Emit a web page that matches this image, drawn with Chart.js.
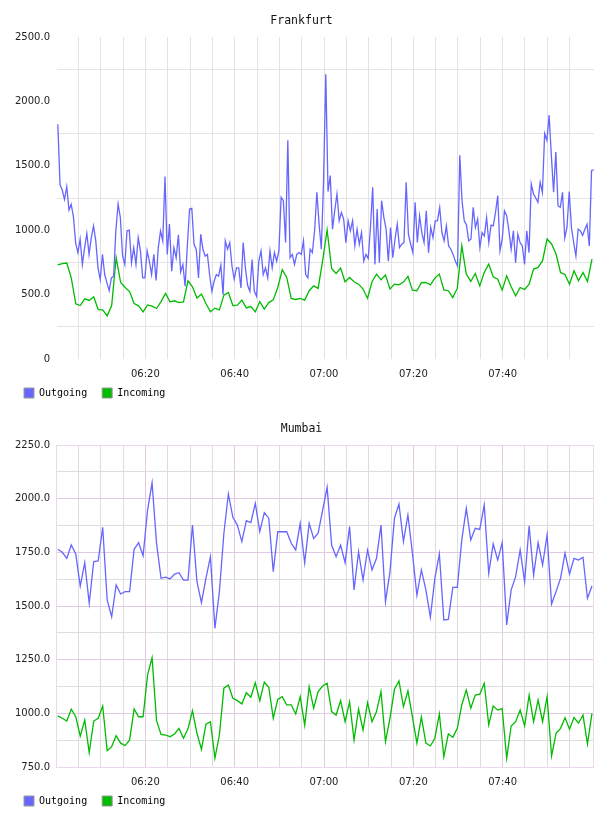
<!DOCTYPE html>
<html><head><meta charset="utf-8">
<script src="https://cdn.jsdelivr.net/npm/chart.js@4.4.0/dist/chart.umd.min.js"></script>
<style>
html,body{margin:0;padding:0;background:#fff;overflow:hidden;width:608px;height:816px;}
canvas{position:absolute;left:0;}
#c1{top:0}
#c2{top:408px}
</style></head><body>
<canvas id="c1" width="608" height="416"></canvas>
<canvas id="c2" width="608" height="416"></canvas>
<script>
// ---- data ----
const chartTitles = ['Frankfurt', 'Mumbai'];
const seriesNames = ['Outgoing', 'Incoming'];
const seriesColors = ['#6666ff', '#00bb00'];
// time axis, minutes after 06:00
const axisStartMinute = 0.22, axisEndMinute = 120.45;
const firstSampleMinute = 0.4;
const outgoingStepMinutes = 0.5;     // Frankfurt outgoing sampled every 30 s
const perMinuteStep = 1.005;         // other series roughly once a minute
const timeLabelMinutes = [20, 40, 60, 80, 100];
const timeLabels = ['06:20', '06:40', '07:00', '07:20', '07:40'];

const frankfurtOutgoing = [
1823,1354,1310,1240,1339,1156,1200,1104,900,826,
930,734,865,974,812,943,1034,917,708,617,
812,656,591,531,630,643,1000,1203,1099,800,
734,995,1000,747,865,734,943,839,630,630,
839,760,656,812,609,865,995,917,1417,812,
1047,682,865,786,964,677,734,565,878,1164,
1170,891,850,630,969,850,799,812,650,526,
604,656,643,729,500,917,852,904,720,620,
708,708,552,904,708,570,526,773,526,487,
760,839,656,708,630,839,708,826,760,839,
1255,1229,904,1698,786,812,734,812,826,812,
917,656,630,852,826,1000,1294,1047,852,1385,
2210,1300,1424,1008,1151,1281,1073,1138,1086,904,
1073,995,1073,878,1008,891,982,760,812,780,
1021,1333,734,1164,747,1229,1099,1008,760,1021,
786,930,1047,865,891,904,1372,969,891,826,
1216,904,1112,982,904,1151,826,1021,943,1073,
1073,1177,982,917,1034,878,852,812,760,721,
1581,1230,1073,1040,917,930,1177,1021,1086,865,
982,956,1099,904,1040,1034,1138,1268,839,930,
1151,1112,995,852,995,747,969,904,878,734,
995,826,1359,1281,1250,1216,1372,1294,1750,1698,
1893,1581,1294,1607,1190,1177,1294,940,1021,1300,
1021,904,799,1008,995,960,1008,1047,878,1464,1469];

const frankfurtIncoming = [
730,740,745,630,428,415,467,455,483,384,
381,335,415,787,594,555,524,431,413,366,
420,410,392,446,509,444,452,438,444,607,
561,473,504,431,366,395,381,496,516,415,
418,457,397,407,366,446,387,438,459,555,
693,633,470,462,470,457,530,568,548,763,
1002,703,664,706,600,633,600,581,543,472,
600,659,615,652,543,581,576,597,641,535,
530,592,594,576,628,659,537,530,477,550,
880,659,602,664,568,672,737,639,620,535,
646,561,491,555,540,581,698,711,763,932,
893,815,672,654,581,685,607,672,602,776];

const mumbaiOutgoing = [
1764,1750,1722,1784,1742,1593,1702,1513,1707,1710,
1867,1528,1450,1598,1556,1567,1567,1764,1795,1734,
1947,2074,1792,1629,1634,1626,1649,1655,1621,1621,
1877,1613,1516,1629,1730,1396,1567,1839,2022,1913,
1877,1800,1897,1888,1978,1846,1935,1909,1660,1846,
1846,1846,1792,1761,1885,1700,1885,1815,1839,1947,
2053,1784,1730,1784,1702,1870,1575,1753,1621,1761,
1668,1722,1877,1520,1660,1909,1975,1800,1924,1746,
1551,1668,1575,1447,1629,1742,1435,1438,1587,1587,
1808,1955,1808,1862,1857,1970,1652,1789,1714,1795,
1412,1575,1637,1761,1613,1873,1644,1795,1691,1831,
1509,1567,1629,1746,1649,1722,1714,1727,1536,1593];

const mumbaiIncoming = [
988,977,964,1019,984,894,969,817,964,977,
1034,826,845,896,861,850,876,1020,984,984,
1179,1259,966,902,899,891,904,930,884,928,
1012,907,832,950,961,791,899,1117,1132,1070,
1059,1044,1096,1075,1143,1059,1145,1121,977,1065,
1078,1039,1039,997,1078,945,1124,1024,1101,1127,
1140,1008,992,1059,961,1054,876,1019,922,1050,
961,1008,1101,868,977,1112,1151,1031,1104,984,
861,984,861,848,884,997,798,904,889,930,
1039,1109,1024,1085,1089,1140,946,1034,1015,1022,
791,941,961,1015,941,1085,961,1062,961,1078,
801,907,930,980,926,980,954,992,857,1000];

// ---- chart building ----
const plotFrame = {
  id: 'plotFrame',
  beforeDatasetsDraw(chart, args, opts) {
    if (!opts.color) return;
    const a = chart.chartArea, ctx = chart.ctx;
    ctx.save();
    ctx.strokeStyle = opts.color;
    ctx.lineWidth = 1;
    ctx.strokeRect(Math.round(a.left) - 0.5, Math.round(a.top) + 0.5,
                   Math.round(a.right - a.left), Math.round(a.bottom - a.top));
    ctx.restore();
  }
};
// pull the legend up closer to the time labels
const legendLift = {
  id: 'legendLift',
  afterLayout(chart, args, opts) {
    const lg = chart.legend;
    if (lg && opts.by) { lg.top -= opts.by; lg.bottom -= opts.by; }
  }
};

function toPoints(values, step) {
  return values.map((v, i) => ({ x: firstSampleMinute + i * step, y: v }));
}

function makeChart(id, title, outVals, outStep, inVals, inStep, yMin, yMax, yStep, labelEvery, style) {
  new Chart(document.getElementById(id), {
    type: 'line',
    data: {
      datasets: [
        { label: seriesNames[0], data: toPoints(outVals, outStep), borderColor: seriesColors[0],
          backgroundColor: seriesColors[0], borderWidth: 1.3, pointRadius: 0, tension: 0, fill: false },
        { label: seriesNames[1], data: toPoints(inVals, inStep), borderColor: seriesColors[1],
          backgroundColor: seriesColors[1], borderWidth: 1.3, pointRadius: 0, tension: 0, fill: false }
      ]
    },
    options: {
      responsive: false, animation: false, devicePixelRatio: 1,
      layout: { padding: { left: 9, right: 14, top: 0, bottom: 0 } },
      plugins: {
        title: { display: true, text: title, color: '#111',
          font: { family: 'DejaVu Sans Mono', size: 11.5, weight: 'normal' },
          padding: { top: 14, bottom: 9.2 } },
        legend: { position: 'bottom', align: 'start',
          labels: { boxWidth: 10, boxHeight: 10, padding: 15, color: '#000',
            font: { family: 'DejaVu Sans Mono', size: 10 },
            generateLabels: (chart) => chart.data.datasets.map((d, i) => ({
              text: d.label, fillStyle: d.borderColor, strokeStyle: '#999', lineWidth: 1,
              hidden: false, datasetIndex: i, fontColor: '#000' })) } },
        tooltip: { enabled: false },
        plotFrame: { color: style.frame },
        legendLift: { by: 8 }
      },
      scales: {
        x: {
          type: 'linear', min: axisStartMinute, max: axisEndMinute,
          afterFit(s) { s.height = 22; },
          afterBuildTicks(s) {
            const t = [];
            for (let v = 0; v <= 120; v += 5) if (v >= s.min && v <= s.max) t.push({ value: v });
            s.ticks = t;
          },
          grid: { drawTicks: false, lineWidth: 1,
            color: (c) => {
              const v = c.tick ? c.tick.value : null;
              if (v === null || v <= 0 || v >= 120) return 'rgba(0,0,0,0)';
              return (v % 20 === 0) ? style.major : style.minor;
            } },
          border: { display: false },
          ticks: { autoSkip: false, maxRotation: 0, minRotation: 0, padding: 9, color: '#222',
            font: { family: 'DejaVu Sans', size: 10 },
            callback: (v) => { const k = timeLabelMinutes.indexOf(v); return k >= 0 ? timeLabels[k] : ''; } }
        },
        y: {
          min: yMin, max: yMax,
          afterFit(s) { s.width = 48; },
          grid: { drawTicks: false, lineWidth: 1,
            color: (c) => {
              const v = c.tick ? c.tick.value : 0;
              return (v % labelEvery === 0) ? style.yMajor : style.yMinor;
            } },
          border: { display: false },
          ticks: { stepSize: yStep, padding: 7, color: '#222', autoSkip: false,
            font: { family: 'DejaVu Sans', size: 10 },
            callback: (v) => (v % labelEvery === 0) ? (v === 0 ? '0' : v.toFixed(1)) : '' }
        }
      }
    },
    plugins: [plotFrame, legendLift]
  });
}

makeChart('c1', chartTitles[0], frankfurtOutgoing, outgoingStepMinutes, frankfurtIncoming, perMinuteStep,
  0, 2500, 250, 500,
  { major: '#e3e3e3', minor: '#e3e3e3', yMajor: 'rgba(0,0,0,0)', yMinor: '#e3e3e3', frame: null });
makeChart('c2', chartTitles[1], mumbaiOutgoing, perMinuteStep, mumbaiIncoming, perMinuteStep,
  750, 2250, 125, 250,
  { major: '#e2c8e2', minor: '#dddddd', yMajor: '#e2c8e2', yMinor: '#dddddd', frame: '#ecd8ec' });
</script>
</body></html>
